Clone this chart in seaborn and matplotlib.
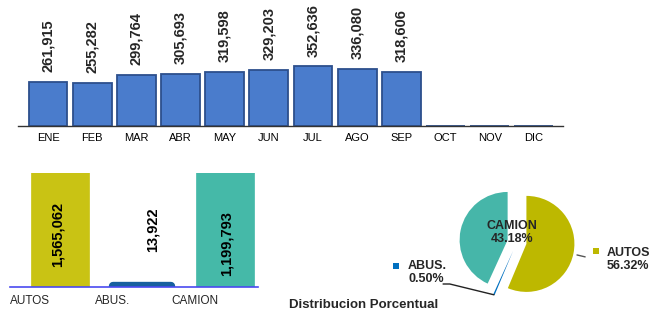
import matplotlib
matplotlib.use("Agg")
import matplotlib.pyplot as plt
import matplotlib.transforms as mtransforms
import seaborn as sns
import pandas as pd

# ---- data ----
months = ["ENE", "FEB", "MAR", "ABR", "MAY", "JUN", "JUL", "AGO", "SEP", "OCT", "NOV", "DIC"]
month_values = [261915, 255282, 299764, 305693, 319598, 329203, 352636, 336080, 318606, 0, 0, 0]

vehicle_types = ["AUTOS", "ABUS.", "CAMION"]
vehicle_values = [1565062, 13922, 1199793]

pie_order = ["AUTOS", "ABUS.", "CAMION"]
pie_values = [1565062, 13922, 1199793]

title_pie = "Distribucion Porcentual"

# ---- style ----
sns.set_style("white")
plt.rcParams["font.family"] = ["Liberation Sans", "DejaVu Sans"]

bar_blue = "#4a7ccc"
bar_blue_edge = "#2d4f8c"
c_autos = "#c9c314"
c_abus = "#17609f"
c_camion = "#45b9a8"
pie_autos = "#bdb800"
pie_abus = "#0070c0"
pie_camion = "#46b6a9"

fig = plt.figure(figsize=(6.5, 3.16), dpi=100)
W, H = 650, 316

# ---- top monthly bars ----
ax1 = fig.add_axes([18 / W, 1 - 126 / H, 545 / W, 126 / H])
df_m = pd.DataFrame({"mes": months, "valor": month_values})
sns.barplot(data=df_m, x="mes", y="valor", ax=ax1, color=bar_blue, saturation=1,
            width=0.88, edgecolor=bar_blue_edge, linewidth=1.3)
ax1.set_xlim(-0.68, 11.66)
ax1.set_ylim(0, 126 * 5900)
ax1.set_xlabel("")
ax1.set_ylabel("")
ax1.set_yticks([])
for s in ["top", "right", "left"]:
    ax1.spines[s].set_visible(False)
ax1.spines["bottom"].set_color("#333333")
ax1.spines["bottom"].set_linewidth(1.0)
ax1.tick_params(axis="x", which="major", length=0, labelsize=8, pad=5, colors="black")
ax1.set_xticks([i + 0.5 for i in range(-1, 12)], minor=True)
ax1.tick_params(axis="x", which="minor", length=3, width=0.8, color="#333333", direction="inout")
labels_m = [f"{v:,}" if v > 0 else "" for v in month_values]
ax1.bar_label(ax1.containers[0], labels=labels_m, rotation=90, padding=7,
              fontsize=10.5, fontweight="bold")

# ---- bottom-left vehicle bars ----
ax2 = fig.add_axes([10 / W, 1 - 287 / H, 248 / W, 114 / H])
df_v = pd.DataFrame({"tipo": vehicle_types, "valor": vehicle_values})
sns.barplot(data=df_v, x="tipo", y="valor", hue="tipo", ax=ax2,
            palette=[c_autos, c_abus, c_camion], saturation=1, width=0.7, legend=False)
for patch, col in zip(ax2.patches, [c_autos, c_abus, c_camion]):
    patch.set_edgecolor(col)
    patch.set_linewidth(6 if col == c_abus else 0.5)
    patch.set_joinstyle("round")
ax2.set_xlim(-0.6, 2.4)
ax2.set_ylim(0, 1.12e6)
ax2.set_xlabel("")
ax2.set_ylabel("")
ax2.set_yticks([])
for s in ["top", "right", "left"]:
    ax2.spines[s].set_visible(False)
ax2.spines["bottom"].set_color("#4a4af0")
ax2.spines["bottom"].set_linewidth(1.2)
ax2.spines["bottom"].set_zorder(5)
ax2.set_xticks([-0.6, 0.4, 1.4, 2.4], minor=True)
ax2.tick_params(axis="x", which="minor", length=4, width=1, color="#4a4af0", direction="inout")
ax2.tick_params(axis="x", which="major", length=0, labelsize=8.5, pad=6)
offset = mtransforms.ScaledTranslation(-30 / 100, 0, fig.dpi_scale_trans)
for lab in ax2.get_xticklabels():
    lab.set_transform(lab.get_transform() + offset)

tr = ax2.get_xaxis_transform()
label_pos = {"AUTOS": (-0.02, 0.46), "ABUS.": (1.12, 0.50), "CAMION": (2.02, 0.38)}
for name, v in zip(vehicle_types, vehicle_values):
    x, y = label_pos[name]
    ax2.text(x, y, f"{v:,}", transform=tr, rotation=90, ha="center", va="center",
             fontsize=10.5, fontweight="bold", color="black")

# ---- pie ----
px = 48  # pixels per unit radius
ax3 = fig.add_axes([(517 - 150) / W, 1 - (242 + 100) / H, 300 / W, 200 / H])
wedges, _ = ax3.pie(pie_values, colors=[pie_autos, pie_abus, pie_camion], startangle=90,
                    counterclock=False, explode=[0.2, 0.2, 0.2],
                    wedgeprops=dict(linewidth=0))
ax3.set_xlim(-150 / px, 150 / px)
ax3.set_ylim(-100 / px, 100 / px)
ax3.set_aspect("equal")
ax3.axis("off")

total = sum(pie_values)
pct = {k: f"{100 * v / total:.2f}%" for k, v in zip(pie_order, pie_values)}

ax3.text(-0.10, 0.20, f"CAMION\n{pct['CAMION']}", ha="center", va="center",
         fontsize=9, fontweight="bold", linespacing=1.1)
# AUTOS outside label
ax3.plot([1.25, 1.42], [-0.27, -0.31], color="#555555", lw=1)
ax3.scatter([1.65], [-0.19], marker="s", s=18, color=pie_autos, linewidths=0)
ax3.text(1.875, -0.36, f"AUTOS\n{pct['AUTOS']}", ha="left", va="center",
         fontsize=9, fontweight="bold", linespacing=1.15)
# ABUS outside label
ax3.plot([-1.54, -1.40, -0.48], [-0.875, -0.875, -1.10], color="#222222", lw=1)
ax3.scatter([-2.52], [-0.50], marker="s", s=18, color=pie_abus, linewidths=0)
ax3.text(-2.27, -0.635, f"ABUS.\n{pct['ABUS.']}", ha="left", va="center",
         fontsize=9, fontweight="bold", linespacing=1.15)

fig.text(363.5 / W, 1 - 305 / H, title_pie, ha="center", va="center",
         fontsize=9.5, fontweight="bold")

fig.savefig("out.png", dpi=100)
